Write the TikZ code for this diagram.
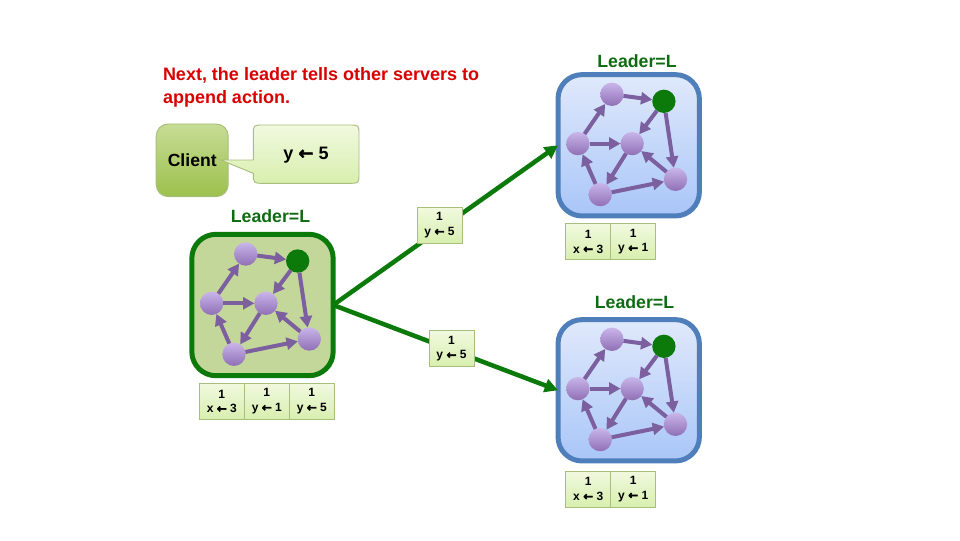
\documentclass[tikz,border=0pt]{standalone}
\usepackage{fontspec}
\setmainfont{Liberation Sans}
\newfontfamily\arrowf[FakeBold=2.5]{DejaVu Sans}
\usetikzlibrary{arrows.meta}
\definecolor{dgreen}{HTML}{0B7A0B}
\definecolor{lgreen}{HTML}{0F6B12}
\definecolor{edgec}{HTML}{7B5F9E}
\definecolor{cellb}{HTML}{A9BE7C}
\definecolor{blueb}{HTML}{4F7FBA}
\definecolor{C1}{HTML}{C9B5EA}
\definecolor{C2}{HTML}{8F6FB5}
\definecolor{C3}{HTML}{9CC04C}
\definecolor{G1}{HTML}{C4D79B}
\definecolor{B1}{HTML}{E0E9FB}
\definecolor{B2}{HTML}{A9C6F8}
\definecolor{E1}{HTML}{F1F9DF}
\definecolor{E2}{HTML}{D8EFAE}
\newcommand{\la}{{\arrowf ←}}
\tikzset{
  x=0.75pt,y=-0.75pt,
  every node/.style={outer sep=0pt,inner sep=0pt},
  srv/.style={circle,minimum size=17.5pt,top color=C1,bottom color=C2},
  lead/.style={circle,minimum size=17.5pt,fill=dgreen},
  link/.style={draw=edgec,line width=3pt,-{Triangle[length=8.5pt,width=9pt]}},
  panelgreen/.style={draw=dgreen,line width=3.75pt,rounded corners=18pt,minimum width=106pt,minimum height=106pt,fill=G1},
  panelblue/.style={draw=blueb,line width=3.75pt,rounded corners=18pt,minimum width=106pt,minimum height=106pt,top color=B1,bottom color=B2},
  cell/.style={draw=cellb,line width=0.7pt,minimum width=33.75pt,minimum height=27pt,top color=E1,bottom color=E2,align=center,font=\fontsize{9}{11}\selectfont\bfseries},
  send/.style={draw=dgreen,line width=3.4pt,-{Triangle[length=10pt,width=10pt]}},
  ttl/.style={text=lgreen,font=\fontsize{13.3}{15}\selectfont\bfseries},
  pics/cluster/.style={code={
    \node[#1] (panel) at (0,0) {};
    \node[srv] (top) at (-16.8,-51) {};
    \node[lead] (lead) at (35.2,-44) {};
    \node[srv] (left) at (-50.8,-1.7) {};
    \node[srv] (center) at (3.5,-1.7) {};
    \node[srv] (bottom) at (-28.5,49.3) {};
    \node[srv] (right) at (46.8,34) {};
    \draw[link] (top) -- (lead);
    \draw[link] (lead) -- (center);
    \draw[link] (lead) -- (right);
    \draw[link] (left) -- (top);
    \draw[link] (left) -- (center);
    \draw[link] (center) -- (bottom);
    \draw[link] (bottom) -- (left);
    \draw[link] (bottom) -- (right);
    \draw[link] (right) -- (center);
  }}
}
\begin{document}
\begin{tikzpicture}
\useasboundingbox (0,0) rectangle (960,540);
% title
\node[anchor=north west,align=left,text=red!85!black,font=\fontsize{13.5}{17.3}\selectfont\bfseries] (title) at (163,67) {Next, the leader tells other servers to\\append action.};
% client
\node[draw=cellb,line width=0.7pt,rounded corners=9pt,minimum width=54pt,minimum height=54.5pt,top color=E1!50!C3,bottom color=C3,font=\fontsize{13.2}{15}\selectfont\bfseries] (client) at (192.2,160.3) {Client};
\coordinate (tip) at (220.7,160);
\draw[draw=cellb,line width=0.7pt,top color=E1,bottom color=E2]
  (253.3,160) -- (253.3,135) .. controls (253.3,125) and (253.3,125) .. (263.3,125)
  -- (349,125) .. controls (359,125) and (359,125) .. (359,135)
  -- (359,173.3) .. controls (359,183.3) and (359,183.3) .. (349,183.3)
  -- (263.3,183.3) .. controls (253.3,183.3) and (253.3,183.3) .. (253.3,173.3)
  -- (tip) -- cycle;
\node[font=\fontsize{13.5}{15}\selectfont\bfseries] (cmd) at (306,155) {y \la\ 5};
% clusters
\pic (L) at (262.5,305) {cluster=panelgreen};
\pic (A) at (628.7,145.3) {cluster=panelblue};
\pic (B) at (628.7,390.3) {cluster=panelblue};
% labels
\node[ttl] (leaderL) at (270.5,216.5) {Leader=L};
\node[ttl] (leaderA) at (637,61) {Leader=L};
\node[ttl] (leaderB) at (634.5,302.5) {Leader=L};
% sends
\draw[send] (Lpanel.east) -- (Apanel.west);
\draw[send] (Lpanel.east) -- (Bpanel.west);
% logs
\node[cell] (m1) at (439.5,225.3) {1\\y \la\ 5};
\node[cell] (m2) at (451.5,348.7) {1\\y \la\ 5};
\node[cell] (l1) at (221.8,401.3) {1\\x \la\ 3};
\node[cell] (l2) at (266.8,401.3) {1\\y \la\ 1};
\node[cell] (l3) at (311.8,401.3) {1\\y \la\ 5};
\node[cell] (a1) at (588.2,241.7) {1\\x \la\ 3};
\node[cell] (a2) at (633.2,241.7) {1\\y \la\ 1};
\node[cell] (b1) at (588.2,489) {1\\x \la\ 3};
\node[cell] (b2) at (633.2,489) {1\\y \la\ 1};
\end{tikzpicture}
\end{document}
